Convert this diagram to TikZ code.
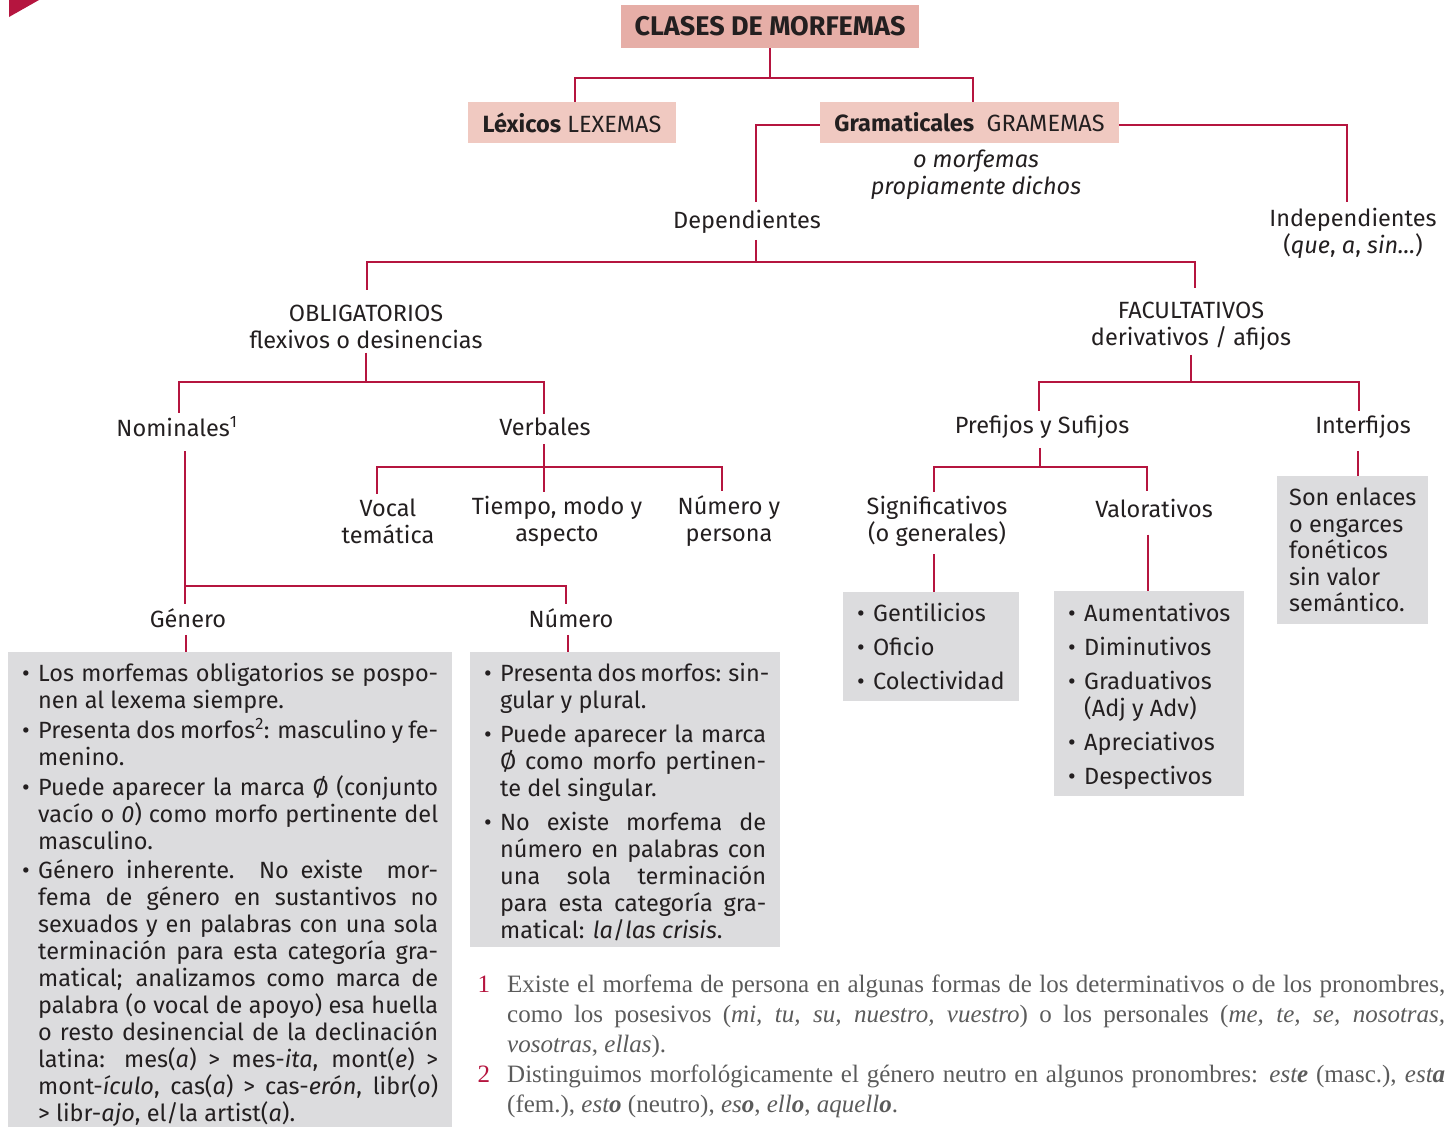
\documentclass[tikz,border=0pt]{standalone}
\usepackage{fontspec}
\setmainfont{Fira Sans}
\newfontfamily\notefont{Liberation Serif}
\definecolor{crim}{HTML}{B5153F}
\definecolor{pinkA}{HTML}{E6AEA7}
\definecolor{pinkB}{HTML}{F0C9C1}
\definecolor{boxg}{HTML}{DCDCDE}
\definecolor{ink}{HTML}{231F20}
\definecolor{notegray}{HTML}{5B5B5B}
\newcommand\mainsz{\fontsize{23.5}{27}\selectfont}
\newcommand\notesz{\notefont\fontsize{25}{30}\selectfont}
\newcommand\bulJ[1]{\hbox to\linewidth{\hbox to16pt{•\hss}\makebox[\dimexpr\linewidth-16pt\relax][s]{#1}}}
\newcommand\bulN[1]{\hbox{\hbox to16pt{•\hss}#1}}
\newcommand\conJ[1]{\hbox to\linewidth{\hskip16pt\relax\makebox[\dimexpr\linewidth-16pt\relax][s]{#1}}}
\newcommand\conN[1]{\hbox{\hskip16pt\relax #1}}
\tikzset{
  conn/.style={draw=crim, line width=2.4pt},
  lbl/.style={align=center, inner sep=4pt, text=ink, font=\mainsz},
  gbox/.style={fill=boxg, inner ysep=0pt, anchor=north west, text=ink, font=\mainsz},
  pbox/.style={inner sep=0pt, text=ink, minimum height=41pt}
}
\begin{document}
\begin{tikzpicture}[x=1pt,y=1pt]
\useasboundingbox (0,0) rectangle (1454,-1127);
\fill[crim] (9,0) -- (39,0) -- (9,-17) -- cycle;

% top boxes
\node[pbox, fill=pinkA, minimum width=298pt, minimum height=43pt, font=\fontsize{27}{32}\selectfont\bfseries] (clases) at (770,-26.5) {CLASES DE MORFEMAS};
\node[pbox, fill=pinkB, minimum width=208pt, font=\mainsz] (lex) at (572,-122.5) {\textbf{Léxicos} LEXEMAS};
\node[pbox, fill=pinkB, minimum width=299pt, font=\mainsz] (gram) at (969.5,-122.5) {\textbf{Gramaticales}\ \ GRAMEMAS};

% labels
\node[lbl, font=\mainsz\itshape] (omorf) at (976,-174.5) {o morfemas\\propiamente dichos};
\node[lbl] (dep) at (747,-222) {Dependientes};
\node[lbl] (indep) at (1353,-233) {Independientes\\(\textit{que}, \textit{a}, \textit{sin...})};
\node[lbl] (obl) at (366,-326.5) {OBLIGATORIOS\\flexivos o desinencias};
\node[lbl] (fac) at (1191,-326.5) {FACULTATIVOS\\derivativos / afijos};
\node[lbl] (nom) at (177,-427) {Nominales\textsuperscript{1}};
\node[lbl] (verb) at (545,-427) {Verbales};
\node[lbl] (vocal) at (388,-521) {Vocal\\temática};
\node[lbl] (tiempo) at (557,-521) {Tiempo, modo y\\aspecto};
\node[lbl] (numpers) at (729,-521) {Número y\\persona};
\node[lbl] (genero) at (188,-618) {Género};
\node[lbl] (numero) at (571,-618) {Número};
\node[lbl] (pref) at (1042,-427) {Prefijos y Sufijos};
\node[lbl] (interf) at (1363,-427) {Interfijos};
\node[lbl] (sig) at (937,-521) {Significativos\\(o generales)};
\node[lbl] (val) at (1154,-508) {Valorativos};

% grey boxes
\node[gbox, inner xsep=14pt] (genbox) at (8,-652) {\parbox[c][475pt][t]{416pt}{%
\vspace*{11pt}
\bulJ{Los morfemas obligatorios se pospo-}
\conN{nen al lexema siempre.}
\vspace{3pt}
\bulJ{Presenta dos morfos\textsuperscript{2}: masculino y fe-}
\conN{menino.}
\vspace{3pt}
\bulJ{Puede aparecer la marca Ø (conjunto}
\conJ{vacío o \textit{0}) como morfo pertinente del}
\conN{masculino.}
\vspace{2pt}
\bulJ{Género inherente. No existe\ \ mor-}
\conJ{fema de género en sustantivos no}
\conJ{sexuados y en palabras con una sola}
\conJ{terminación para esta categoría gra-}
\conJ{matical; analizamos como marca de}
\conJ{palabra (o vocal de apoyo) esa huella}
\conJ{o resto desinencial de la declinación}
\conJ{latina: mes(\textit{a}) > mes-\textit{ita}, mont(\textit{e}) >}
\conJ{mont-\textit{ículo}, cas(\textit{a}) > cas-\textit{erón}, libr(\textit{o})}
\conN{> libr-\textit{ajo}, el/la artist(\textit{a}).}
}};
\node[gbox, inner xsep=14pt] (numbox) at (470,-652) {\parbox[c][295pt][t]{282pt}{%
\vspace*{11pt}
\bulJ{Presenta dos morfos: sin-}
\conN{gular y plural.}
\vspace{7pt}
\bulJ{Puede aparecer la marca}
\conJ{Ø como morfo pertinen-}
\conN{te del singular.}
\vspace{7pt}
\bulJ{No existe morfema de}
\conJ{número en palabras con}
\conJ{una sola terminación}
\conJ{para esta categoría gra-}
\conN{matical: \textit{la}/\textit{las crisis}.}
}};
\node[gbox, inner xsep=14pt] (gentbox) at (843,-592) {\parbox[c][109pt][t]{155pt}{%
\vspace*{11pt}
\bulN{Gentilicios}
\vspace{7pt}
\bulN{Oficio}
\vspace{7pt}
\bulN{Colectividad}
}};
\node[gbox, inner xsep=14pt] (valbox) at (1054,-591) {\parbox[c][205pt][t]{165pt}{%
\vspace*{12pt}
\bulN{Aumentativos}
\vspace{7pt}
\bulN{Diminutivos}
\vspace{7pt}
\bulN{Graduativos}
\conN{(Adj y Adv)}
\vspace{7pt}
\bulN{Apreciativos}
\vspace{7pt}
\bulN{Despectivos}
}};
\node[gbox, inner xsep=12pt, font=\fontsize{23.5}{26.5}\selectfont] (interbox) at (1277,-476) {\parbox[c][148pt][t]{143pt}{%
\vspace*{12pt}
\hbox{Son enlaces}
\hbox{o engarces}
\hbox{fonéticos}
\hbox{sin valor}
\hbox{semántico.}
}};

% footnotes
\node[anchor=north west, inner sep=0pt, text=notegray, font=\notesz] (fn) at (507,-975) {\parbox[t]{938pt}{%
\hbox to\linewidth{\llap{\textcolor{crim}{1}\hskip17pt}\makebox[\linewidth][s]{Existe el morfema de persona en algunas formas de los determinativos o de los pronombres,}}
\hbox to\linewidth{\makebox[\linewidth][s]{como los posesivos (\textit{mi, tu, su, nuestro, vuestro}) o los personales (\textit{me, te, se, nosotras,}}}
\hbox{\textit{vosotras}, \textit{ellas}).}
\hbox to\linewidth{\llap{\textcolor{crim}{2}\hskip17pt}\makebox[\linewidth][s]{Distinguimos morfológicamente el género neutro en algunos pronombres: \textit{est\textbf{e}} (masc.), \textit{est\textbf{a}}}}
\hbox{(fem.), \textit{est\textbf{o}} (neutro), \textit{es\textbf{o}}, \textit{ell\textbf{o}}, \textit{aquell\textbf{o}}.}
}};

% junctions
\coordinate (jA) at (770,-78);
\coordinate (jB) at (756,-262);
\coordinate (jC) at (366,-382);
\coordinate (jD) at (1191,-382);
\coordinate (jE) at (544,-467);
\coordinate (jF) at (185,-586);
\coordinate (jG) at (1040,-467);

% connectors
\draw[conn] (clases.south) -- (jA);
\draw[conn] (jA) -| ([xshift=3pt]lex.north);
\draw[conn] (jA) -| ([xshift=3.5pt]gram.north);
\draw[conn] ([yshift=-2.5pt]gram.west) -| ([xshift=9pt,yshift=4.5pt]dep.north);
\draw[conn] ([yshift=-2.5pt]gram.east) -| ([xshift=-6pt,yshift=2pt]indep.north);
\draw[conn] ([xshift=9pt,yshift=-2pt]dep.south) -- (jB);
\draw[conn] (jB) -| ([xshift=1pt,yshift=10pt]obl.north);
\draw[conn] (jB) -| ([xshift=4pt,yshift=10pt]fac.north);
\draw[conn] (obl.south) -- (jC);
\draw[conn] (jC) -| ([xshift=2pt]nom.north);
\draw[conn] (jC) -| ([xshift=-1pt]verb.north);
\draw[conn] ([xshift=-1pt,yshift=-4pt]verb.south) -- (jE) -- ([xshift=-13pt]tiempo.north);
\draw[conn] (jE) -| ([xshift=-11pt]vocal.north);
\draw[conn] (jE) -| ([xshift=-7pt]numpers.north);
\draw[conn] ([xshift=8pt,yshift=-10pt]nom.south) -- (jF);
\draw[conn] (jF) -- ([xshift=-3pt]genero.north);
\draw[conn] (jF) -| ([xshift=-5pt]numero.north);
\coordinate (gS) at ([xshift=-2pt,yshift=-3pt]genero.south);
\draw[conn] (gS) -- (gS |- genbox.north);
\coordinate (nS) at ([xshift=-3pt,yshift=-3pt]numero.south);
\draw[conn] (nS) -- (nS |- numbox.north);
\draw[conn] (fac.south) -- (jD);
\draw[conn] (jD) -| ([xshift=-3pt]pref.north);
\draw[conn] (jD) -| ([xshift=-4pt]interf.north);
\draw[conn] ([xshift=-2pt,yshift=-5pt]pref.south) -- (jG);
\draw[conn] (jG) -| ([xshift=-3pt]sig.north);
\draw[conn] (jG) -| ([xshift=-7pt,yshift=3pt]val.north);
\coordinate (sS) at ([xshift=-3pt,yshift=-4pt]sig.south);
\draw[conn] (sS) -- (sS |- gentbox.north);
\coordinate (vS) at ([xshift=-6pt,yshift=-13pt]val.south);
\draw[conn] (vS) -- (vS |- valbox.north);
\coordinate (iS) at ([xshift=-5pt,yshift=-8pt]interf.south);
\draw[conn] (iS) -- (iS |- interbox.north);
\end{tikzpicture}
\end{document}
